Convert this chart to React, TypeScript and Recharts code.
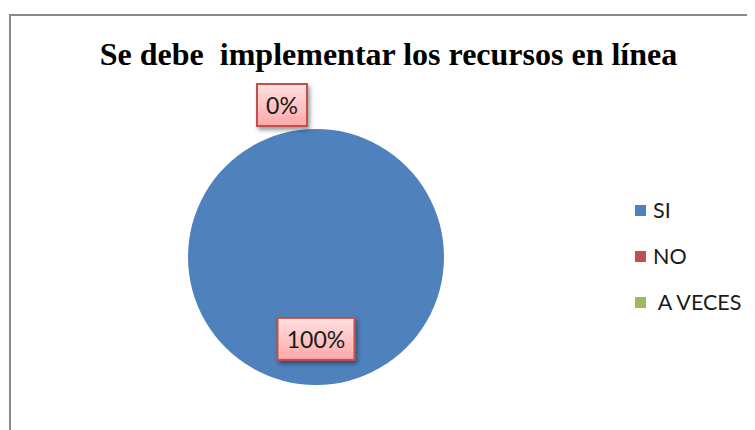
import React from 'react';
import { PieChart, Pie, Cell, Legend } from 'recharts';

const categories = ['SI', 'NO', 'A VECES'];
const values = [100, 0, 0];
const colors = ['#4F81BD', '#C0504D', '#9BBB59'];
const title = 'Se debe  implementar los recursos en línea';

const data = categories.map((name, i) => ({ name, value: values[i] }));

const RAD = Math.PI / 180;
const polar = (cx: number, cy: number, r: number, angle: number) => ({
  x: cx + Math.cos(-angle * RAD) * r,
  y: cy + Math.sin(-angle * RAD) * r,
});

const LABEL_FONT = 23;
const BOX_H = 42;

const renderLabel = (props: any) => {
  const { cx, cy, midAngle, outerRadius, percent, index } = props;
  // Excel shows a single label for the coinciding zero slices
  if (values[index] === 0 && values.slice(0, index).some((v) => v === 0)) return null;
  const text = `${Math.round(percent * 100)}%`;
  const digits = text.length - 1;
  const w = 18 + digits * 13.5 + 18.5;
  let bx: number;
  let by: number;
  if (percent > 0) {
    const p = polar(cx, cy, outerRadius * 0.64, midAngle);
    bx = p.x - w / 2;
    by = p.y - BOX_H / 2;
  } else {
    const p = polar(cx, cy, outerRadius + 3, midAngle);
    bx = p.x - 9 - w;
    by = p.y - BOX_H;
  }
  return (
    <g key={`lbl-${index}`}>
      <rect
        x={bx}
        y={by}
        width={w}
        height={BOX_H}
        fill="url(#lblGrad)"
        stroke="#C0504D"
        strokeWidth={2}
        filter="url(#lblShadow)"
      />
      <text
        x={bx + w / 2}
        y={by + BOX_H / 2}
        textAnchor="middle"
        dominantBaseline="central"
        fontFamily="Lato, 'Open Sans', sans-serif"
        fontSize={LABEL_FONT}
        fill="#1a1a1a"
      >
        {text}
      </text>
    </g>
  );
};

const renderLegend = () => (
  <div style={{ fontFamily: "Lato, 'Open Sans', sans-serif", fontSize: 21.5, color: '#1a1a1a' }}>
    {categories.map((c, i) => (
      <div key={c} style={{ height: 46, display: 'flex', alignItems: 'center' }}>
        <span
          style={{
            display: 'inline-block',
            width: 11,
            height: 11,
            background: colors[i],
            marginRight: 7,
          }}
        />
        <span style={{ whiteSpace: 'pre' }}>{i === 2 ? ' ' + c : c}</span>
      </div>
    ))}
  </div>
);

export default function App() {
  return (
    <div style={{ position: 'relative', width: 747, height: 422, overflow: 'hidden', background: '#fff' }}>
      <div
        style={{
          position: 'absolute',
          left: 1,
          top: 6,
          width: 800,
          height: 500,
          border: '2px solid #8a8a8a',
          boxSizing: 'border-box',
        }}
      />
      <div
        style={{
          position: 'absolute',
          left: 80,
          width: 601,
          top: 30,
          textAlign: 'center',
          fontFamily: "'Liberation Serif', 'Times New Roman', serif",
          fontWeight: 'bold',
          fontSize: 32,
          lineHeight: '32px',
          color: '#000',
          whiteSpace: 'pre',
        }}
      >
        {title}
      </div>
      <div style={{ position: 'absolute', left: 0, top: 0 }}>
        <PieChart width={747} height={422} margin={{ top: 0, right: 0, bottom: 0, left: 0 }}>
          <defs>
            <linearGradient id="lblGrad" x1="0" y1="0" x2="0" y2="1">
              <stop offset="0%" stopColor="#FFE0E0" />
              <stop offset="100%" stopColor="#FFA8A8" />
            </linearGradient>
            <filter id="lblShadow" x="-20%" y="-20%" width="150%" height="160%">
              <feDropShadow dx="2" dy="3" stdDeviation="2" floodColor="#000" floodOpacity="0.4" />
            </filter>
          </defs>
          <Pie
            data={data}
            dataKey="value"
            nameKey="name"
            cx={308}
            cy={249}
            outerRadius={128}
            startAngle={90}
            endAngle={-270}
            stroke="none"
            label={renderLabel}
            labelLine={false}
            isAnimationActive={false}
          >
            {data.map((d, i) => (
              <Cell key={d.name} fill={colors[i]} />
            ))}
          </Pie>
          <Legend
            content={renderLegend}
            wrapperStyle={{ left: 627, top: 179, width: 120, right: 'auto', bottom: 'auto' }}
          />
        </PieChart>
      </div>
    </div>
  );
}
